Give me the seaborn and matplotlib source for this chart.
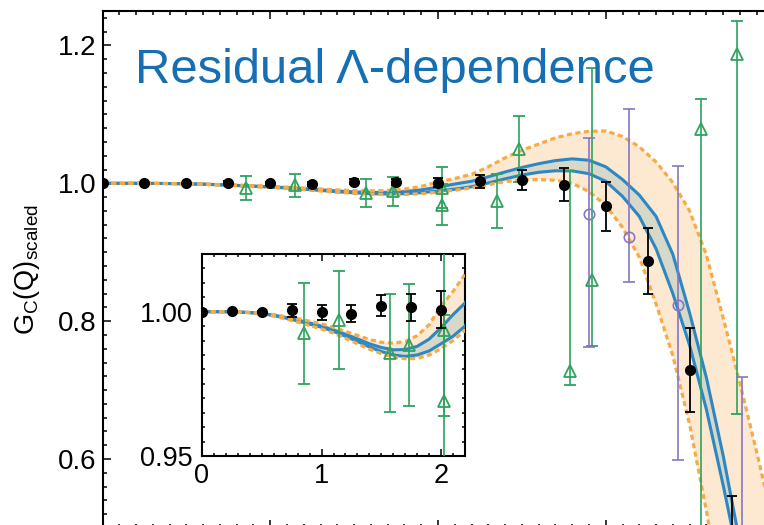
import matplotlib
matplotlib.use("Agg")
import matplotlib.pyplot as plt
from matplotlib.ticker import FixedLocator, MultipleLocator
import seaborn as sns

# ---- uncertainty bands: scaled charge form factor G_C(Q) ----
q_band = [0.0, 0.1, 0.2, 0.3, 0.4, 0.5, 0.6, 0.7, 0.8, 0.9,
          1.0, 1.1, 1.2, 1.3, 1.4, 1.5, 1.6, 1.7, 1.8, 1.9,
          2.0, 2.1, 2.2, 2.3, 2.4, 2.5, 2.6, 2.7, 2.8, 2.9,
          3.0, 3.1, 3.2, 3.3, 3.4, 3.5, 3.6, 3.7, 3.8, 3.9, 4.0]
blue_upper = [1.0000, 1.0000, 1.0000, 0.9999, 0.9997, 0.9994, 0.9988, 0.9980, 0.9971, 0.9961,
              0.9950, 0.9937, 0.9922, 0.9906, 0.9889, 0.9876, 0.9868, 0.9869, 0.9880, 0.9905,
              0.9945, 0.9990, 1.0030, 1.0095, 1.0165, 1.0230, 1.0285, 1.0330, 1.0355, 1.0335,
              1.0240, 1.0055, 0.9830, 0.9520, 0.8970, 0.8120, 0.7180, 0.6050, 0.4780, 0.3400, 0.2000]
blue_lower = [1.0000, 1.0000, 1.0000, 0.9999, 0.9997, 0.9993, 0.9987, 0.9978, 0.9968, 0.9957,
              0.9946, 0.9932, 0.9915, 0.9897, 0.9878, 0.9862, 0.9850, 0.9845, 0.9850, 0.9864,
              0.9889, 0.9915, 0.9950, 1.0005, 1.0065, 1.0120, 1.0160, 1.0182, 1.0180, 1.0140,
              1.0030, 0.9810, 0.9520, 0.9050, 0.8400, 0.7650, 0.6720, 0.5620, 0.4450, 0.3200, 0.1900]
orange_upper = [1.0000, 1.0000, 1.0000, 0.9999, 0.9998, 0.9995, 0.9990, 0.9983, 0.9976, 0.9967,
                0.9958, 0.9946, 0.9932, 0.9918, 0.9904, 0.9894, 0.9891, 0.9897, 0.9917, 0.9955,
                1.0020, 1.0070, 1.0130, 1.0240, 1.0370, 1.0480, 1.0570, 1.0660, 1.0720, 1.0755,
                1.0760, 1.0680, 1.0530, 1.0310, 1.0010, 0.9600, 0.8960, 0.8050, 0.7100, 0.6100, 0.5050]
orange_lower = [1.0000, 1.0000, 1.0000, 0.9999, 0.9996, 0.9992, 0.9985, 0.9975, 0.9964, 0.9952,
                0.9940, 0.9926, 0.9908, 0.9889, 0.9870, 0.9855, 0.9843, 0.9837, 0.9838, 0.9850,
                0.9872, 0.9900, 0.9935, 0.9980, 1.0025, 1.0050, 1.0055, 1.0045, 1.0000, 0.9880,
                0.9680, 0.9360, 0.8930, 0.8250, 0.7500, 0.6500, 0.5250, 0.3850, 0.2500, 0.1100, -0.030]

# ---- data sets ----
black_q = [0.0, 0.25, 0.5, 0.75, 1.0, 1.25, 1.5, 1.75, 2.0, 2.25, 2.5, 2.75, 3.0, 3.25, 3.5, 3.75]
black_g = [1.0000, 1.0001, 1.0000, 1.0005, 0.9998, 0.9993, 1.0021, 1.0016, 1.0007,
           1.0030, 1.0050, 0.9980, 0.9670, 0.8870, 0.7290, 0.4700]
black_err = [0.0002, 0.0003, 0.0004, 0.0023, 0.0027, 0.0030, 0.0037, 0.0047, 0.0064,
             0.0094, 0.0150, 0.0236, 0.0355, 0.0480, 0.0610, 0.0760]

green_q = [0.856, 1.146, 1.573, 1.732, 2.025, 2.025, 2.353, 2.484, 2.786, 2.920, 3.567, 3.780]
green_g = [0.9926, 0.9972, 0.9856, 0.9885, 0.9937, 0.9690, 0.9740, 1.0500, 0.7280, 0.8600, 1.0795, 1.1870]
green_lo = [0.0175, 0.0170, 0.0205, 0.0210, 0.0300, 0.0300, 0.0390, 0.0480, 0.0210, 0.0965, 0.6500, 0.5210]
green_hi = [0.0175, 0.0170, 0.0205, 0.0210, 0.0300, 0.0300, 0.0390, 0.0480, 0.2900, 0.3070, 0.0435, 0.0485]

purple_q = [2.90, 3.14, 3.43, 3.81]
purple_g = [0.956, 0.922, 0.824, 0.470]
purple_lo = [0.194, 0.065, 0.226, 0.250]
purple_hi = [0.110, 0.186, 0.201, 0.249]

# ---- axis settings ----
main_yticks = [0.6, 0.8, 1.0, 1.2]
main_ylabels = ["0.6", "0.8", "1.0", "1.2"]
inset_xticks = [0, 1, 2]
inset_xlabels = ["0", "1", "2"]
inset_yticks = [0.95, 1.00]
inset_ylabels = ["0.95", "1.00"]

BLUE = "#2f87c2"
BLUE_FILL = "#d6d8ca"
ORANGE = "#f8aa45"
ORANGE_FILL = "#fde8d2"
TITLE_BLUE = "#166fb3"
GREEN = "#2fa35e"
PURPLE = "#8577c2"

sns.set_theme(style="ticks")
plt.rcParams["font.family"] = ["Liberation Sans", "DejaVu Sans"]
plt.rcParams["mathtext.default"] = "regular"
for key in ("text.color", "axes.labelcolor", "xtick.color", "ytick.color",
            "xtick.labelcolor", "ytick.labelcolor"):
    plt.rcParams[key] = "black"


def draw_panel(ax):
    ax.fill_between(q_band, orange_lower, orange_upper, color=ORANGE_FILL, lw=0, zorder=1)
    ax.fill_between(q_band, blue_lower, blue_upper, color=BLUE_FILL, lw=0, zorder=2)
    for curve in (blue_upper, blue_lower):
        sns.lineplot(x=q_band, y=curve, ax=ax, color=BLUE, lw=2.2,
                     estimator=None, sort=False, zorder=3)
    for curve in (orange_upper, orange_lower):
        sns.lineplot(x=q_band, y=curve, ax=ax, color=ORANGE, lw=2.3,
                     linestyle=(0, (1.6, 1.1)), estimator=None, sort=False, zorder=4)
    ax.errorbar(green_q, green_g, yerr=[green_lo, green_hi], fmt="^", ms=8.5,
                mfc="none", mec=GREEN, mew=1.3, ecolor=GREEN, elinewidth=1.2,
                capsize=4.2, capthick=1.2, zorder=5)
    ax.errorbar(purple_q, purple_g, yerr=[purple_lo, purple_hi], fmt="o", ms=7.5,
                mfc="none", mec=PURPLE, mew=1.2, ecolor=PURPLE, elinewidth=1.2,
                capsize=4.2, capthick=1.2, zorder=5)
    ax.errorbar(black_q, black_g, yerr=black_err, fmt="o", ms=7, color="black",
                ecolor="black", elinewidth=1.3, capsize=3.8, capthick=1.3, zorder=6)


def style_frame(ax, major_len, minor_len):
    for s in ax.spines.values():
        s.set_visible(True)
        s.set_linewidth(1.5)
        s.set_color("black")
    ax.tick_params(which="both", direction="in", top=True, right=True,
                   bottom=True, left=True, width=1.1, color="black")
    ax.tick_params(which="major", length=major_len)
    ax.tick_params(which="minor", length=minor_len)


fig = plt.figure(figsize=(7.64, 5.25), dpi=100)

# main panel (frame runs past the lower and right edges of the canvas)
ax = fig.add_axes([102.5 / 764, -3 / 525, 671 / 764, 517 / 525])
ax.set_facecolor("white")
draw_panel(ax)
ax.set_xlim(0, 4.0)
ax.set_ylim(0.5, 1.25)
style_frame(ax, 6, 3)
ax.xaxis.set_major_locator(MultipleLocator(1.0))
ax.xaxis.set_minor_locator(MultipleLocator(0.1))
ax.tick_params(axis="x", labelbottom=False)
ax.yaxis.set_major_locator(FixedLocator(main_yticks))
ax.set_yticklabels(main_ylabels)
ax.yaxis.set_minor_locator(MultipleLocator(0.02))
ax.tick_params(axis="y", labelsize=20, pad=4.2)
ax.set_xlabel("")
ax.set_ylabel(r"$\mathregular{G_C(Q)_{scaled}}$", fontsize=19.5)
ax.yaxis.set_label_coords(-0.09, 0.5)
ax.text(0.195, 1.146, "Residual \u039b-dependence", fontsize=35.3, color=TITLE_BLUE,
        ha="left", va="baseline", zorder=7)

# inset: low-Q detail
axi = fig.add_axes([202 / 764, (525 - 456) / 525, 263 / 764, 202 / 525])
axi.set_facecolor("white")
draw_panel(axi)
axi.set_xlim(0, 2.2)
axi.set_ylim(0.95, 1.02)
style_frame(axi, 5, 2.5)
axi.xaxis.set_major_locator(FixedLocator(inset_xticks))
axi.set_xticklabels(inset_xlabels)
axi.xaxis.set_minor_locator(MultipleLocator(0.1))
axi.yaxis.set_major_locator(FixedLocator(inset_yticks))
axi.set_yticklabels(inset_ylabels)
axi.yaxis.set_minor_locator(MultipleLocator(0.005))
axi.tick_params(axis="x", labelsize=19.5, pad=5)
axi.tick_params(axis="y", labelsize=19.5, pad=6.5)
axi.set_xlabel("")
axi.set_ylabel("")

fig.savefig("out.png", dpi=100)
